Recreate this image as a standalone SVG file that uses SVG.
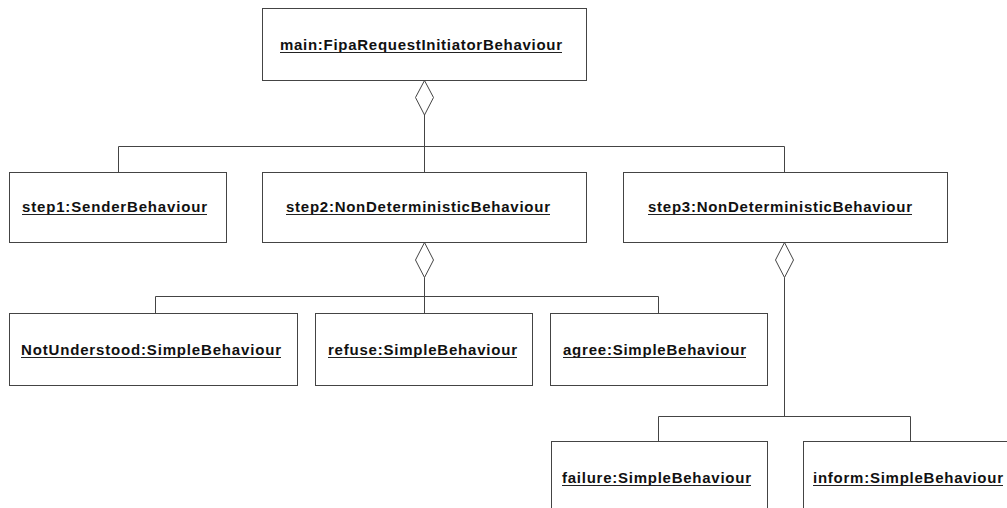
<svg xmlns="http://www.w3.org/2000/svg" width="1007" height="508" viewBox="0 0 1007 508">
  <style>
    .box { fill: #ffffff; stroke: #444444; stroke-width: 1; }
    .lbl { font-family: "Liberation Sans", Arial, Helvetica, sans-serif; font-size: 15px; font-weight: bold; fill: #111111; }
    .ul { stroke: #222222; stroke-width: 1.2; }
    .edge { fill: none; stroke: #444444; stroke-width: 1; }
    .agg { fill: #ffffff; stroke: #444444; stroke-width: 1; }
  </style>
  <rect width="1007" height="508" fill="#ffffff"/>

  <!-- composition connectors -->
  <g id="connectors">
    <!-- main -> step1/step2/step3 -->
    <polygon class="agg" points="424.5,80.5 433.5,97.5 424.5,115 415.5,97.5"/>
    <path class="edge" d="M424.5 115 V172.5 M118.5 146.5 H784.5 M118.5 146.5 V172.5 M784.5 146.5 V172.5"/>
    <!-- step2 -> NotUnderstood/refuse/agree -->
    <polygon class="agg" points="424.5,242.5 433.5,260 424.5,277.5 415.5,260"/>
    <path class="edge" d="M424.5 277.5 V313.5 M155.5 296.5 H658.5 M155.5 296.5 V313.5 M658.5 296.5 V313.5"/>
    <!-- step3 -> failure/inform -->
    <polygon class="agg" points="784.5,242.5 793.5,260 784.5,277.5 775.5,260"/>
    <path class="edge" d="M784.5 277.5 V416.5 M658.5 416.5 H910.5 M658.5 416.5 V441.5 M910.5 416.5 V441.5"/>
  </g>

  <g id="main">
    <rect class="box" x="262.5" y="8.5" width="324" height="72"/>
    <text class="lbl" x="280" y="50" textLength="282" lengthAdjust="spacing">main:FipaRequestInitiatorBehaviour</text>
    <line class="ul" x1="280" y1="52.5" x2="562" y2="52.5"/>
  </g>

  <g id="step1">
    <rect class="box" x="9.5" y="172.5" width="217" height="70"/>
    <text class="lbl" x="22" y="212" textLength="185" lengthAdjust="spacing">step1:SenderBehaviour</text>
    <line class="ul" x1="22" y1="214.5" x2="207" y2="214.5"/>
  </g>

  <g id="step2">
    <rect class="box" x="262.5" y="172.5" width="324" height="70"/>
    <text class="lbl" x="286" y="212" textLength="264" lengthAdjust="spacing">step2:NonDeterministicBehaviour</text>
    <line class="ul" x1="286" y1="214.5" x2="550" y2="214.5"/>
  </g>

  <g id="step3">
    <rect class="box" x="623.5" y="172.5" width="324" height="70"/>
    <text class="lbl" x="648" y="212" textLength="264" lengthAdjust="spacing">step3:NonDeterministicBehaviour</text>
    <line class="ul" x1="648" y1="214.5" x2="912" y2="214.5"/>
  </g>

  <g id="notunderstood">
    <rect class="box" x="9.5" y="313.5" width="288" height="72"/>
    <text class="lbl" x="21" y="355" textLength="260" lengthAdjust="spacing">NotUnderstood:SimpleBehaviour</text>
    <line class="ul" x1="21" y1="357.5" x2="281" y2="357.5"/>
  </g>

  <g id="refuse">
    <rect class="box" x="315.5" y="313.5" width="217" height="72"/>
    <text class="lbl" x="328" y="355" textLength="189" lengthAdjust="spacing">refuse:SimpleBehaviour</text>
    <line class="ul" x1="328" y1="357.5" x2="517" y2="357.5"/>
  </g>

  <g id="agree">
    <rect class="box" x="550.5" y="313.5" width="217" height="72"/>
    <text class="lbl" x="563" y="355" textLength="183" lengthAdjust="spacing">agree:SimpleBehaviour</text>
    <line class="ul" x1="563" y1="357.5" x2="746" y2="357.5"/>
  </g>

  <g id="failure">
    <rect class="box" x="551.5" y="441.5" width="216" height="72"/>
    <text class="lbl" x="562" y="483" textLength="189" lengthAdjust="spacing">failure:SimpleBehaviour</text>
    <line class="ul" x1="562" y1="485.5" x2="751" y2="485.5"/>
  </g>

  <g id="inform">
    <rect class="box" x="803.5" y="441.5" width="216" height="72"/>
    <text class="lbl" x="813" y="483" textLength="190" lengthAdjust="spacing">inform:SimpleBehaviour</text>
    <line class="ul" x1="813" y1="485.5" x2="1003" y2="485.5"/>
  </g>
</svg>
